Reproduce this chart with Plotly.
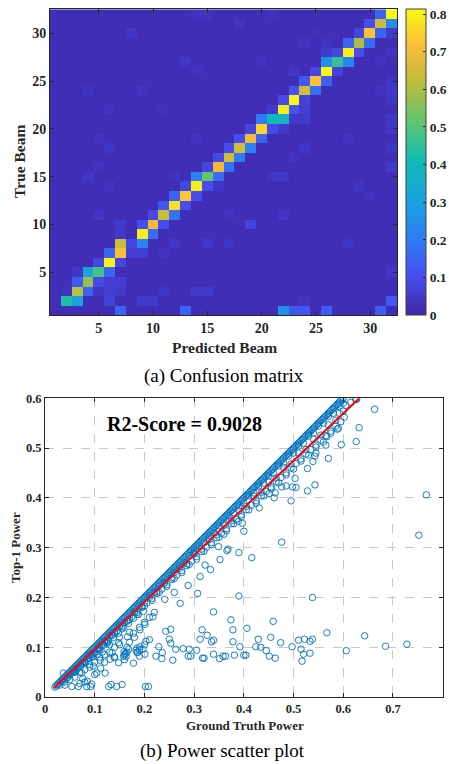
import plotly.graph_objects as go

# ---------------- Confusion matrix data (sparse) ----------------
n_beams = 32
beam_ids = list(range(1, n_beams + 1))
background_level = 0.02
cm_rows = [32,32,32,32,32, 31,31,31,31, 30,30,30,30,30,30, 29,29,29,29,29,
           28,28,28,28,28, 27,27,27,27,27,27, 26,26,26,26,26, 25,25,25,25,
           24,24,24,24,24,24,24, 23,23,23,23, 22,22,22,22,22,22,
           21,21,21,21,21,21, 20,20,20,20,20, 19,19,19,19,19,19,
           18,18,18,18,18,18, 17,17,17,17, 16,16,16,16,16,
           15,15,15,15,15,15,15, 14,14,14,14,14,14, 13,13,13,13, 12,12,12,
           11,11,11,11,11,11, 10,10,10,10,10, 9,9,9,
           8,8,8,8,8,8,8, 7,7,7,7,7, 6,6,6, 5,5,5,5,5,
           4,4,4,4,4, 3,3,3,3,3,3,3,3,3, 2,2,2,2,2,2,2, 1,1,1,1,1,1,1]
cm_cols = [31,32,14,15,21, 30,31,32,18, 29,30,31,32,8,25, 28,29,30,24,26,
           26,27,28,29,32, 26,27,28,13,20,31, 25,26,27,14,23, 24,25,26,32,
           23,24,25,4,9,31,32, 22,23,24,32, 21,22,23,24,6,11,
           20,21,22,23,24,32, 19,20,21,22,32, 18,19,20,5,14,28,
           17,18,19,6,24,32, 16,17,18,23, 15,16,17,5,32,
           14,15,16,4,12,21,22, 13,14,15,16,6,29, 12,13,14,30, 11,12,13,
           10,11,12,5,17,22, 7,9,10,11,19, 7,9,10,
           7,8,9,12,15,17,28, 6,7,8,9,11, 5,6,7, 3,4,5,6,32,
           3,4,5,6,7, 2,3,4,5,6,7,11,14,15, 2,3,6,9,10,32,24, 7,13,22,23,24,26,31]
cm_vals = [0.15,0.81,0.035,0.035,0.03, 0.10,0.64,0.24,0.04, 0.08,0.72,0.15,0.05,0.04,0.03,
           0.15,0.60,0.17,0.035,0.035,
           0.05,0.08,0.80,0.10,0.035, 0.26,0.46,0.22,0.04,0.035,0.035,
           0.08,0.81,0.07,0.035,0.04, 0.12,0.72,0.14,0.04,
           0.11,0.65,0.18,0.035,0.035,0.035,0.045, 0.09,0.81,0.07,0.04,
           0.05,0.79,0.12,0.06,0.035,0.03,
           0.20,0.40,0.38,0.05,0.05,0.045, 0.08,0.75,0.09,0.05,0.04,
           0.10,0.70,0.15,0.035,0.035,0.035,
           0.10,0.65,0.22,0.04,0.04,0.04, 0.09,0.65,0.20,0.035, 0.08,0.70,0.18,0.035,0.05,
           0.21,0.52,0.17,0.045,0.035,0.04,0.04, 0.08,0.79,0.10,0.04,0.035,0.035,
           0.15,0.73,0.10,0.035, 0.12,0.77,0.10,
           0.09,0.64,0.18,0.04,0.035,0.04, 0.05,0.10,0.70,0.10,0.07, 0.045,0.79,0.17,
           0.64,0.08,0.22,0.04,0.045,0.04,0.04, 0.15,0.72,0.06,0.06,0.035,
           0.08,0.80,0.08, 0.04,0.30,0.48,0.15,0.04,
           0.13,0.57,0.09,0.06,0.06, 0.035,0.62,0.15,0.04,0.06,0.05,0.04,0.05,0.05,
           0.43,0.30,0.07,0.05,0.05,0.12,0.035, 0.15,0.15,0.25,0.12,0.12,0.13,0.14]
cm_ticks = [5, 10, 15, 20, 25, 30]
cbar_ticks = [0, 0.1, 0.2, 0.3, 0.4, 0.5, 0.6, 0.7, 0.8]

z = [[background_level] * n_beams for _ in range(n_beams)]
for r, c, v in zip(cm_rows, cm_cols, cm_vals):
    z[r - 1][c - 1] = v

# ---------------- Scatter data ----------------
# correct-beam samples: top-1 power equals ground truth power (dense band on the diagonal)
band_exact = [
    0.0200,0.0225,0.0250,0.0275,0.0300,0.0325,0.0350,0.0375,0.0400,0.0425,0.0450,0.0475,
    0.0500,0.0525,0.0550,0.0575,0.0600,0.0625,0.0650,0.0675,0.0700,0.0725,0.0750,0.0775,
    0.0800,0.0825,0.0850,0.0875,0.0900,0.0925,0.0950,0.0975,0.1000,0.1025,0.1050,0.1075,
    0.1100,0.1125,0.1150,0.1175,0.1200,0.1225,0.1250,0.1275,0.1300,0.1325,0.1350,0.1375,
    0.1400,0.1425,0.1450,0.1475,0.1500,0.1525,0.1550,0.1575,0.1600,0.1625,0.1650,0.1675,
    0.1700,0.1725,0.1750,0.1775,0.1800,0.1825,0.1850,0.1875,0.1900,0.1925,0.1950,0.1975,
    0.2000,0.2025,0.2050,0.2075,0.2100,0.2125,0.2150,0.2175,0.2200,0.2225,0.2250,0.2275,
    0.2300,0.2325,0.2350,0.2375,0.2400,0.2425,0.2450,0.2475,0.2500,0.2525,0.2550,0.2575,
    0.2600,0.2625,0.2650,0.2675,0.2700,0.2725,0.2750,0.2775,0.2800,0.2825,0.2850,0.2875,
    0.2900,0.2925,0.2950,0.2975,0.3000,0.3025,0.3050,0.3075,0.3100,0.3125,0.3150,0.3175,
    0.3200,0.3225,0.3250,0.3275,0.3300,0.3325,0.3350,0.3375,0.3400,0.3425,0.3450,0.3475,
    0.3500,0.3525,0.3550,0.3575,0.3600,0.3625,0.3650,0.3675,0.3700,0.3725,0.3750,0.3775,
    0.3800,0.3825,0.3850,0.3875,0.3900,0.3925,0.3950,0.3975,0.4000,0.4025,0.4050,0.4075,
    0.4100,0.4125,0.4150,0.4175,0.4200,0.4225,0.4250,0.4275,0.4300,0.4325,0.4350,0.4375,
    0.4400,0.4425,0.4450,0.4475,0.4500,0.4525,0.4550,0.4575,0.4600,0.4625,0.4650,0.4675,
    0.4700,0.4725,0.4750,0.4775,0.4800,0.4825,0.4850,0.4875,0.4900,0.4925,0.4950,0.4975,
    0.5000,0.5025,0.5050,0.5075,0.5100,0.5125,0.5150,0.5175,0.5200,0.5225,0.5250,0.5275,
    0.5300,0.5325,0.5350,0.5375,0.5400,0.5425,0.5450,0.5475,0.5500,0.5525,0.5550,0.5575,
    0.5600,0.5625,0.5650,0.5675,0.5700,0.5725,0.5750,0.5775,0.5800,0.5825,0.5850,0.5875,
    0.5900,0.5925,0.5950,0.5975,0.6000]
# samples just under the diagonal
near_x = [0.03,0.04,0.05,0.06,0.07,0.08,0.09,0.10,0.11,0.12,0.13,0.14,0.15,0.16,0.17,0.18,
          0.19,0.20,0.21,0.22,0.23,0.24,0.25,0.26,0.27,0.28,0.29,0.30,0.31,0.32,0.33,0.34,
          0.35,0.36,0.37,0.38,0.39,0.40,0.41,0.42,0.43,0.44,0.45,0.46,0.47,0.48,0.49,0.50,
          0.51,0.52,0.53,0.54,0.55,0.56,0.57,0.58,0.59,0.60,
          0.035,0.045,0.055,0.065,0.075,0.085,0.095,0.105,0.115,0.125,0.135,0.145,0.155,0.165,
          0.175,0.185,0.195,0.205,0.215,0.225,0.235,0.245,0.255,0.265,0.275,0.285,0.295,0.305,
          0.315,0.325,0.335,0.345,0.355,0.365,0.375,0.385,0.395,0.405,0.415,0.425,0.435,0.445,
          0.455,0.465,0.475,0.485,0.495,0.505,0.515,0.525,0.535,0.545,0.555,0.565,0.575,0.585,
          0.595,
          0.06,0.075,0.09,0.105,0.12,0.135,0.15,0.165,0.18,0.195,0.21,0.225,0.24,0.255,0.27,
          0.285,0.30,0.315,0.33,0.345,0.36,0.375,0.39,0.405,0.42,0.435,0.45,0.465,0.48,0.495,
          0.51,0.525,0.54,0.555,0.57,0.585,0.60,
          0.08,0.11,0.14,0.17,0.20,0.23,0.26,0.29,0.32,0.35,0.38,0.41,0.44,0.47,0.50,0.53,0.56,0.59,
          0.095,0.125,0.155,0.185,0.215,0.245,0.275,0.305,0.335,0.365,0.395,0.425,0.455,0.485,
          0.515,0.545,0.575,0.605,0.615,0.625]
near_y = [0.024,0.030,0.044,0.050,0.064,0.070,0.084,0.090,0.104,0.110,0.124,0.130,0.144,0.150,
          0.164,0.170,0.184,0.190,0.204,0.210,0.224,0.230,0.244,0.250,0.264,0.270,0.284,0.290,
          0.304,0.310,0.324,0.330,0.344,0.350,0.364,0.370,0.384,0.390,0.404,0.410,0.424,0.430,
          0.444,0.450,0.464,0.470,0.484,0.490,0.504,0.510,0.524,0.530,0.544,0.550,0.564,0.570,
          0.584,0.590,
          0.031,0.040,0.049,0.058,0.068,0.077,0.086,0.096,0.105,0.114,0.124,0.133,0.142,0.152,
          0.161,0.170,0.180,0.189,0.198,0.208,0.217,0.226,0.236,0.245,0.254,0.264,0.273,0.282,
          0.292,0.301,0.310,0.320,0.329,0.338,0.348,0.357,0.366,0.376,0.385,0.394,0.404,0.413,
          0.422,0.432,0.441,0.450,0.460,0.469,0.478,0.488,0.497,0.506,0.516,0.525,0.534,0.544,
          0.553,
          0.055,0.068,0.084,0.097,0.113,0.125,0.142,0.154,0.171,0.182,0.200,0.212,0.229,0.240,
          0.258,0.268,0.287,0.297,0.316,0.326,0.345,0.354,0.374,0.383,0.403,0.411,0.432,0.440,
          0.461,0.468,0.490,0.497,0.518,0.526,0.547,0.556,0.574,
          0.072,0.099,0.128,0.155,0.183,0.210,0.238,0.266,0.293,0.321,0.348,0.376,0.404,0.430,
          0.458,0.486,0.512,0.540,
          0.082,0.110,0.137,0.166,0.194,0.222,0.250,0.277,0.306,0.334,0.362,0.389,0.418,0.446,
          0.474,0.502,0.530,0.586,0.592,0.598]
# clearly mispredicted samples
off_x = [0.767,0.752,0.663,0.632,0.626,0.596,0.627,0.643,0.685,0.728,0.606,0.567,0.538,0.538,
         0.533,0.522,0.515,0.517,0.520,0.497,0.533,0.510,0.474,0.459,0.454,0.463,0.451,0.445,
         0.434,0.429,0.424,0.406,0.404,0.400,0.392,0.381,0.378,0.378,0.374,0.390,0.339,0.363,
         0.358,0.351,0.339,0.339,0.335,0.326,0.316,0.312,0.320,0.317,0.305,0.293,0.288,0.290,
         0.278,0.263,0.257,0.253,0.250,0.253,0.243,0.236,0.235,0.223,0.229,0.208,0.202,0.201,
         0.197,0.203,0.191,0.186,0.183,0.178,0.168,0.163,0.159,0.155,0.144,0.133,0.128,0.148,
         0.139,0.131,0.121,0.112,0.104,0.094,0.092,0.084,0.085,0.076,0.070,0.067,0.054,0.040,
         0.037,
         0.592,0.602,0.588,0.567,0.565,0.570,0.543,0.545,0.543,0.528,0.528,0.539,0.505,0.503,
         0.495,0.498,0.476,0.485,0.461,0.463,0.476,0.431,0.451,0.416,0.400,0.397,0.389,0.390,
         0.360,0.352,0.366,0.368,0.349,0.333,0.322,0.312,0.307,0.288,0.272,0.260,0.241,0.217,
         0.201,0.191,0.178,0.166,0.148,0.135,0.111,0.097,0.074,
         0.05,0.06,0.07,0.08,0.09,0.10,0.11,0.12,0.13,0.14,0.15,0.16,0.165,0.17,0.18,0.185,
         0.19,0.16,0.14,0.12,0.10,0.08,0.09,0.13,0.15,0.17,0.19,0.20,0.21,0.22,0.11,0.125,
         0.20,0.21,
         0.045,0.058,0.072,0.088,0.098,0.108,0.118,0.128,0.138,0.148,0.158,0.168,0.178,0.188,
         0.198,0.165,0.158,0.162,0.185,0.19,0.105,0.115,0.095,0.062,0.082]
off_y = [0.406,0.325,0.578,0.541,0.513,0.507,0.598,0.123,0.102,0.106,0.093,0.129,0.200,0.116,
         0.112,0.116,0.096,0.072,0.086,0.101,0.088,0.114,0.109,0.152,0.120,0.078,0.082,0.093,
         0.100,0.116,0.101,0.138,0.084,0.084,0.101,0.084,0.111,0.135,0.155,0.203,0.171,0.082,
         0.082,0.077,0.086,0.114,0.111,0.124,0.135,0.116,0.078,0.078,0.094,0.082,0.082,0.096,
         0.097,0.096,0.074,0.108,0.116,0.136,0.132,0.089,0.077,0.082,0.101,0.021,0.021,0.086,
         0.096,0.112,0.101,0.089,0.094,0.068,0.096,0.082,0.091,0.025,0.021,0.025,0.021,0.069,
         0.080,0.076,0.048,0.058,0.048,0.026,0.021,0.021,0.032,0.037,0.027,0.021,0.021,0.024,
         0.048,
         0.570,0.562,0.538,0.523,0.506,0.479,0.484,0.490,0.426,0.414,0.459,0.473,0.421,0.439,
         0.394,0.422,0.422,0.424,0.400,0.410,0.311,0.380,0.409,0.280,0.333,0.349,0.353,0.290,
         0.327,0.276,0.294,0.297,0.302,0.256,0.265,0.242,0.208,0.224,0.188,0.210,0.196,0.161,
         0.146,0.135,0.128,0.121,0.109,0.089,0.074,0.062,0.048,
         0.035,0.040,0.050,0.055,0.065,0.070,0.080,0.085,0.090,0.100,0.105,0.085,0.090,0.110,
         0.120,0.090,0.095,0.075,0.080,0.070,0.045,0.030,0.060,0.105,0.120,0.130,0.140,0.150,
         0.160,0.170,0.095,0.108,0.105,0.115,
         0.038,0.050,0.062,0.078,0.088,0.096,0.104,0.112,0.120,0.128,0.140,0.148,0.158,0.166,
         0.172,0.100,0.082,0.088,0.098,0.082,0.086,0.090,0.080,0.052,0.070]
fit_x = [0.018, 0.632]
fit_y = [0.018, 0.600]
sc_xticks = [0, 0.1, 0.2, 0.3, 0.4, 0.5, 0.6, 0.7, 0.8]
sc_yticks = [0, 0.1, 0.2, 0.3, 0.4, 0.5, 0.6]

# ---------------- Figure ----------------
W, H = 449, 764
SERIF = "Liberation Serif, Times New Roman, serif"
parula = [[0.0, 'rgb(62,38,168)'], [0.125, 'rgb(71,78,238)'], [0.25, 'rgb(45,125,245)'],
          [0.375, 'rgb(25,163,222)'], [0.5, 'rgb(15,186,182)'], [0.625, 'rgb(90,198,115)'],
          [0.75, 'rgb(184,189,60)'], [0.875, 'rgb(250,186,58)'], [1.0, 'rgb(249,250,20)']]

def px(x):
    return x / W

def py(y):
    return 1 - y / H

fig = go.Figure()
fig.add_trace(go.Heatmap(
    x=beam_ids, y=beam_ids, z=z, zmin=0, zmax=0.8125, colorscale=parula,
    xaxis='x', yaxis='y',
    colorbar=dict(x=px(406), xanchor='left', y=py(162.3), yanchor='middle',
                  len=306, lenmode='pixels', thickness=20, thicknessmode='pixels',
                  outlinewidth=1, outlinecolor='#404040', xpad=0, ypad=0,
                  tickvals=cbar_ticks, ticktext=[f"<b>{t:g}</b>" for t in cbar_ticks],
                  ticks='inside', ticklen=3, tickcolor='#262626',
                  tickfont=dict(family=SERIF, size=13.5, color='#262626'))))

all_x = band_exact + near_x + off_x
all_y = band_exact + near_y + off_y
fig.add_trace(go.Scatter(
    x=all_x, y=all_y, mode='markers', xaxis='x2', yaxis='y2',
    marker=dict(symbol='circle-open', size=6.5, color='#0072BD', line=dict(width=0.9, color='#0072BD')),
    showlegend=False, cliponaxis=True))
fig.add_trace(go.Scatter(
    x=fit_x, y=fit_y, mode='lines', xaxis='x2', yaxis='y2',
    line=dict(color='#FF0000', width=2), showlegend=False))

axis_common = dict(showline=True, linecolor='#262626', linewidth=1, mirror='ticks',
                   ticks='inside', ticklen=4, tickcolor='#262626',
                   tickfont=dict(family=SERIF, size=14, color='#262626'), zeroline=False)

fig.update_layout(
    width=W, height=H, margin=dict(l=0, r=0, t=0, b=0, autoexpand=False),
    paper_bgcolor='white', plot_bgcolor='white', showlegend=False,
    xaxis=dict(domain=[px(50), px(397.3)], range=[0.5, 32.5], anchor='y',
               tickvals=cm_ticks, ticktext=[f"<b>{t}</b>" for t in cm_ticks],
               showgrid=False, **axis_common),
    yaxis=dict(domain=[py(315.3), py(9.3)], range=[0.5, 32.5], anchor='x',
               tickvals=cm_ticks, ticktext=[f"<b>{t}</b>" for t in cm_ticks],
               showgrid=False, **axis_common),
    xaxis2=dict(domain=[px(45), px(442.7)], range=[0, 0.8], anchor='y2',
                tickvals=sc_xticks, ticktext=[f"<b>{t:g}</b>" for t in sc_xticks],
                showgrid=True, gridcolor='#c8c8c8', griddash='dash', gridwidth=1,
                **{**axis_common, 'tickfont': dict(family=SERIF, size=12.5, color='#262626')}),
    yaxis2=dict(domain=[py(697), py(398.3)], range=[0, 0.6], anchor='x2',
                tickvals=sc_yticks, ticktext=[f"<b>{t:g}</b>" for t in sc_yticks],
                showgrid=True, gridcolor='#c8c8c8', griddash='dash', gridwidth=1,
                **{**axis_common, 'tickfont': dict(family=SERIF, size=12.5, color='#262626')}),
)

ann = [
    dict(text="<b>Predicted Beam</b>", x=px(224), y=py(347), size=15.5, angle=0),
    dict(text="<b>True Beam</b>", x=px(20), y=py(162), size=15.5, angle=-90),
    dict(text="(a) Confusion matrix", x=px(224), y=py(376), size=19, angle=0),
    dict(text="<b>Ground Truth Power</b>", x=px(244.5), y=py(725.5), size=13, angle=0),
    dict(text="<b>Top-1 Power</b>", x=px(15), y=py(548), size=13, angle=-90),
    dict(text="(b) Power scatter plot", x=px(222.5), y=py(751), size=19, angle=0),
    dict(text="<b>R2-Score = 0.9028</b>", x=px(184), y=py(423.5), size=20, angle=0),
]
for a in ann:
    fig.add_annotation(text=a['text'], x=a['x'], y=a['y'], xref='paper', yref='paper',
                       xanchor='center', yanchor='middle', showarrow=False, textangle=a['angle'],
                       font=dict(family=SERIF, size=a['size'], color='#000000' if 'R2' in a['text'] or '(' in a['text'] else '#262626'))

fig.write_html("out.html")
